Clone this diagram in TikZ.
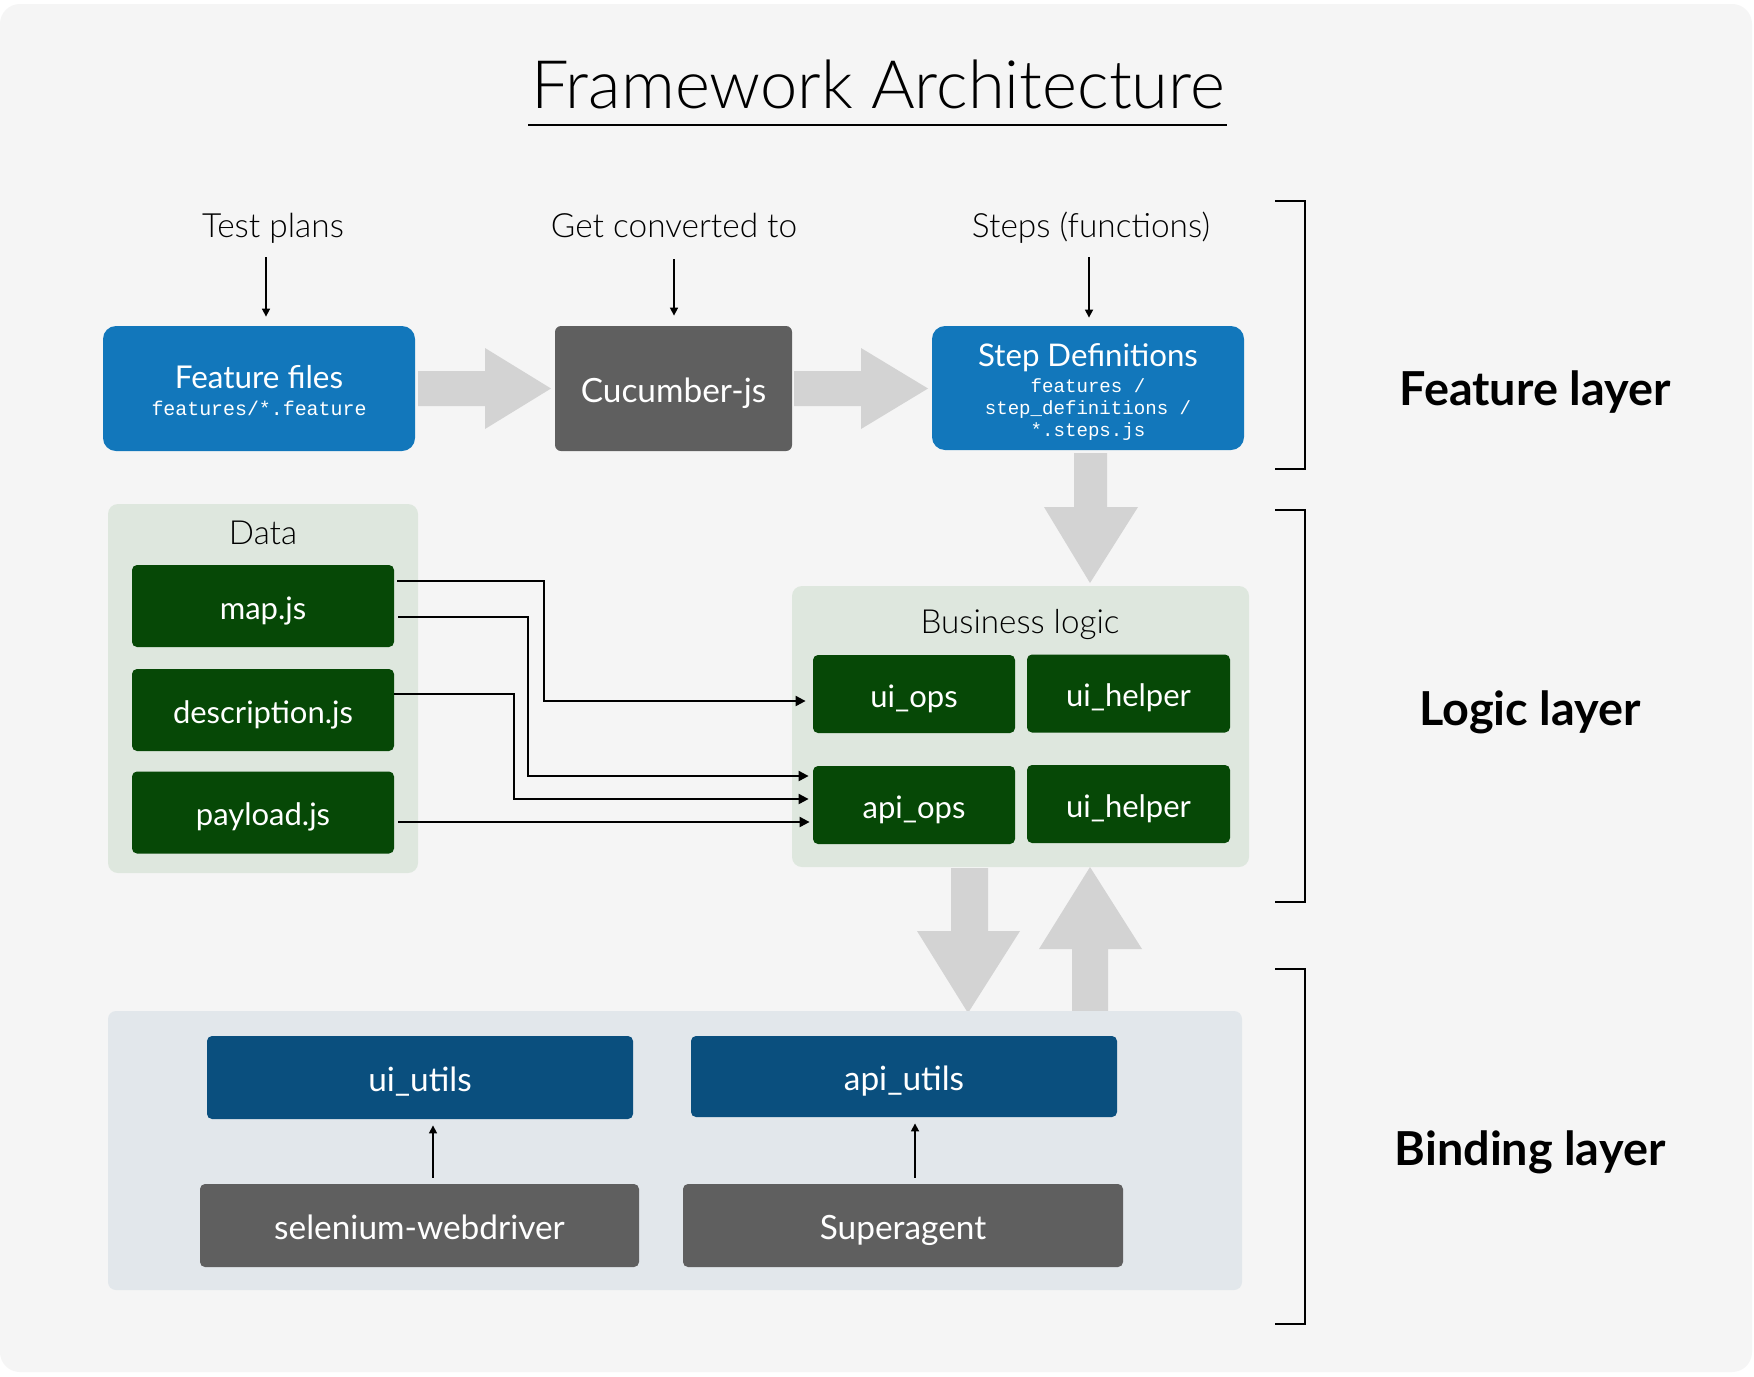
\documentclass[tikz,border=0pt]{standalone}
\usepackage{fontspec}
\setmainfont{Lato}
\newfontfamily\latolight{Lato Light}
\newfontfamily\monof{Liberation Mono}
\usetikzlibrary{arrows.meta}
\definecolor{bgc}{HTML}{F5F5F5}
\definecolor{fblue}{HTML}{1277BB}
\definecolor{dgray}{HTML}{5F5F5F}
\definecolor{arrg}{HTML}{D3D3D3}
\definecolor{lgreen}{HTML}{DEE7DE}
\definecolor{dgreen}{HTML}{064806}
\definecolor{lblue}{HTML}{E2E7EB}
\definecolor{dblue}{HTML}{0A4F7E}
\begin{document}
\begin{tikzpicture}[x=0.5pt,y=-0.5pt,
  lbl/.style={inner sep=0pt, anchor=base, font=\latolight\fontsize{16.7}{20}\selectfont},
  layer/.style={inner sep=0pt, anchor=base, font=\bfseries\fontsize{23.4}{28}\selectfont},
  contlbl/.style={inner sep=0pt, anchor=base, font=\latolight\fontsize{16.6}{20}\selectfont},
  intext/.style={inner sep=0pt, anchor=base, text=white},
  monotext/.style={intext, font=\monof\fontsize{9.7}{11}\selectfont},
  bigbox/.style={fill=fblue, rounded corners=6.5pt, minimum width=156pt, minimum height=62.5pt, inner sep=0pt},
  cont/.style={rounded corners=5pt, inner sep=0pt},
  sbox/.style={rounded corners=2.5pt, inner sep=0pt, text=white, font=\fontsize{15.5}{18}\selectfont, text height=13.3pt, text depth=0pt},
  gbox/.style={sbox, fill=dgreen, minimum width=131pt, minimum height=41pt},
  opbox/.style={sbox, fill=dgreen, minimum width=101pt, minimum height=39pt},
  ubox/.style={sbox, fill=dblue, minimum width=213pt, minimum height=41pt, font=\fontsize{16.7}{20}\selectfont, text height=13.9pt},
  gybox/.style={sbox, fill=dgray, minimum width=219.5pt, minimum height=41.5pt, font=\fontsize{16.7}{20}\selectfont, text height=13.9pt},
  thinarrow/.style={draw=black, line width=0.8pt, -{Triangle[length=4pt,width=4pt]}},
  conn/.style={draw=black, line width=1pt, -{Triangle[length=5pt,width=5pt]}},
  bracket/.style={draw=black, line width=1pt},
  garrow/.style={fill=arrg}
]
\useasboundingbox (0,0) rectangle (1754,1376);
\fill[white] (0,0) rectangle (1754,1376);
\fill[bgc, rounded corners=10pt] (0,4) rectangle (1752,1372);

% title
\node[inner sep=0pt, anchor=base, font=\latolight\fontsize{33.4}{40}\selectfont] (title) at (878,108) {Framework Architecture};
\coordinate (ul1) at (528,125);
\coordinate (ul2) at (1227,125);
\draw[line width=1pt] (ul1) -- (ul2);

% top labels
\node[lbl] (tp) at (273,237) {Test plans};
\node[lbl] (gc) at (674,237) {Get converted to};
\node[lbl] (sf) at (1091,237) {Steps (functions)};

% feature layer boxes
\node[bigbox] (feat) at (259,388.5) {};
\node[intext, font=\fontsize{15.7}{19}\selectfont] (feat-t) at (259,388) {Feature files};
\node[monotext, font=\monof\fontsize{9.95}{11}\selectfont] (feat-m) at (259,415) {features/*.feature};

\node[sbox, fill=dgray, rounded corners=3pt, minimum width=118.5pt, minimum height=62.5pt, font=\fontsize{16.7}{20}\selectfont, text height=13.6pt] (cuc) at (673.5,388.5) {Cucumber-js};

\node[bigbox, minimum height=62pt] (sd) at (1088,388) {};
\node[intext, font=\fontsize{15.6}{19}\selectfont] (sd-t) at (1088,366) {Step Definitions};
\node[monotext, font=\monof\fontsize{9.55}{11}\selectfont] (sd-m1) at (1088,392) {features /};
\node[monotext, font=\monof\fontsize{9.55}{11}\selectfont] (sd-m2) at (1088,414) {step\_definitions /};
\node[monotext, font=\monof\fontsize{9.55}{11}\selectfont] (sd-m3) at (1088,436) {*.steps.js};

% thin arrows from labels
\coordinate (tpx) at (266,0);
\coordinate (gcx) at (674,0);
\coordinate (sfx) at (1089,0);
\draw[thinarrow, shorten <=10pt, shorten >=4.5pt] (tp.base -| tpx) -- (feat.north -| tpx);
\draw[thinarrow, shorten <=11pt, shorten >=5pt] (gc.base -| gcx) -- (cuc.north -| gcx);
\draw[thinarrow, shorten <=10pt, shorten >=4pt] (sf.base -| sfx) -- (sd.north -| sfx);

% big gray arrows
\fill[garrow] (418,371) -- (485,371) -- (485,348) -- (551,388.5) -- (485,429) -- (485,406) -- (418,406) -- cycle;
\fill[garrow] (794,371) -- (861,371) -- (861,348) -- (928,388.5) -- (861,429) -- (861,406) -- (794,406) -- cycle;
\fill[garrow] (1074,453) -- (1107,453) -- (1107,507) -- (1138,507) -- (1090,583) -- (1044,507) -- (1074,507) -- cycle;
\fill[garrow] (951,868) -- (988,868) -- (988,931) -- (1020,931) -- (968,1013) -- (917,931) -- (951,931) -- cycle;
\fill[garrow] (1072,1011) -- (1108,1011) -- (1108,949) -- (1142,949) -- (1090,867) -- (1039,949) -- (1072,949) -- cycle;

% logic layer
\node[cont, fill=lgreen, minimum width=155pt, minimum height=184.5pt] (data) at (263,688.5) {};
\node[contlbl] (data-t) at (263,544) {Data};
\node[gbox] (map) at (263,606) {map.js};
\node[gbox] (desc) at (263,710) {description.js};
\node[gbox] (pay) at (263,812.5) {payload.js};

\node[cont, fill=lgreen, minimum width=228.5pt, minimum height=140.5pt] (biz) at (1020.5,726.5) {};
\node[contlbl] (biz-t) at (1020,633) {Business logic};
\node[opbox] (uiops) at (914,694) {ui\_ops};
\node[opbox, minimum width=101.5pt] (uih1) at (1128.5,693.5) {ui\_helper};
\node[opbox] (apiops) at (914,805) {api\_ops};
\node[opbox, minimum width=101.5pt] (uih2) at (1128.5,804) {ui\_helper};

% connectors
\coordinate (s1) at (0,581);
\coordinate (s2) at (0,617);
\coordinate (s3) at (0,694);
\coordinate (v1) at (544,701);
\coordinate (v2) at (528,776);
\coordinate (v3) at (514,799);
\coordinate (v4) at (0,822);
\draw[conn, shorten <=1.5pt, shorten >=3.5pt] (map.east |- s1) -| (v1) -- (uiops.west |- v1);
\draw[conn, shorten <=2pt, shorten >=2pt] (map.east |- s2) -| (v2) -- (apiops.west |- v2);
\draw[conn, shorten >=2pt] (desc.east |- s3) -| (v3) -- (apiops.west |- v3);
\draw[conn, shorten <=2pt, shorten >=1.5pt] (pay.east |- v4) -- (apiops.west |- v4);

% binding layer
\node[cont, rounded corners=4pt, fill=lblue, minimum width=567pt, minimum height=139.5pt] (bind) at (675,1150.5) {};
\node[ubox, minimum height=41.5pt] (uiutils) at (420,1077.5) {ui\_utils};
\node[ubox, minimum height=40.5pt] (apiutils) at (904,1076.5) {api\_utils};
\node[gybox] (sel) at (419.5,1225.5) {selenium-webdriver};
\node[gybox, minimum width=220pt] (sup) at (903,1225.5) {Superagent};
\coordinate (bx1) at (433,0);
\coordinate (bx2) at (915,0);
\draw[thinarrow, shorten <=3pt, shorten >=3pt] (sel.north -| bx1) -- (uiutils.south -| bx1);
\draw[thinarrow, shorten <=3pt, shorten >=3pt] (sup.north -| bx2) -- (apiutils.south -| bx2);

% brackets
\draw[bracket] (1275,201) -- (1305,201) -- (1305,469) -- (1275,469);
\draw[bracket] (1275,510) -- (1305,510) -- (1305,902) -- (1275,902);
\draw[bracket] (1275,969) -- (1305,969) -- (1305,1324) -- (1275,1324);

% layer labels
\node[layer] (fl) at (1535,405) {Feature layer};
\node[layer] (ll) at (1530,725) {Logic layer};
\node[layer] (bl) at (1530,1165) {Binding layer};
\end{tikzpicture}
\end{document}
